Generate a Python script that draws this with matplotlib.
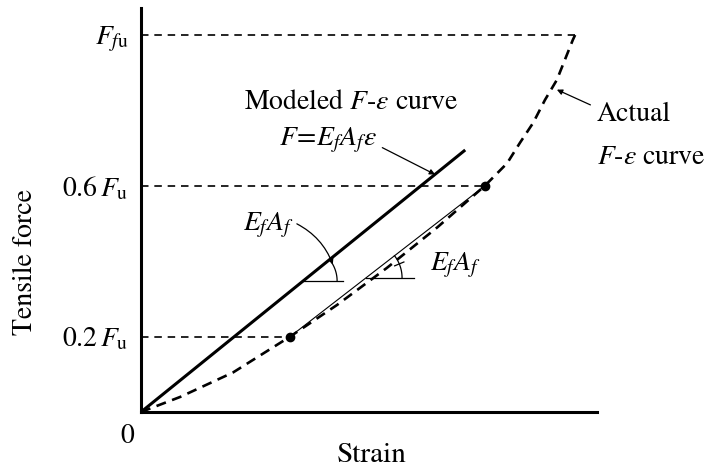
import numpy as np
import matplotlib
matplotlib.use("Agg")
import matplotlib.pyplot as plt

plt.rcParams['font.family'] = ['STIXGeneral', 'DejaVu Serif']
plt.rcParams['mathtext.fontset'] = 'stix'

# strain (normalised to axis length) and force (fraction of F_fu)
actual_strain = [0.0, 0.086, 0.202, 0.327, 0.430, 0.539, 0.650, 0.754, 0.803, 0.831, 0.860, 0.886, 0.912, 0.947, 0.952]
actual_force = [0.0, 0.040, 0.105, 0.200, 0.284, 0.382, 0.490, 0.600, 0.660, 0.714, 0.767, 0.828, 0.881, 0.987, 1.000]
model_strain = [0.0, 0.711]
model_force = [0.0, 0.695]
chord_strain = [0.327, 0.754]
chord_force = [0.200, 0.600]
level_force = [0.2, 0.6, 1.0]
level_end = [0.327, 0.754, 0.952]
level_labels = [r'$0.2\,F_\mathrm{u}$', r'$0.6\,F_\mathrm{u}$', r'$F_{f\mathrm{u}}$']

FS = 20

fig = plt.figure(figsize=(7.17, 4.70), dpi=100)
ax = fig.add_axes([141 / 717, 58 / 470, 456 / 717, 404 / 470])
ax.set_xlim(0, 1)
ax.set_ylim(0, 404 / 377)
for s in ['top', 'right']:
    ax.spines[s].set_visible(False)
for s in ['left', 'bottom']:
    ax.spines[s].set_linewidth(2.2)
ax.set_xticks([])
ax.set_yticks(level_force)
ax.set_yticklabels(level_labels, fontsize=FS)
ax.tick_params(axis='y', length=0, pad=9)

# reference levels
for yv, xe in zip(level_force, level_end):
    ax.plot([0, xe], [yv, yv], color='black', lw=1.2, dashes=(4.5, 3.5), clip_on=False)

# curves
ax.plot(actual_strain, actual_force, color='black', lw=1.9, dashes=(3.8, 2.5), clip_on=False)
ax.plot(model_strain, model_force, color='black', lw=2.2, solid_capstyle='butt')
ax.plot(chord_strain, chord_force, color='black', lw=0.8)
ax.plot(chord_strain, chord_force, 'o', color='black', ms=6)


def to_px(x, y):
    return ax.transData.transform((x, y))


def to_data(px):
    return ax.transData.inverted().transform(px)


def slope_mark(x0, y0, x1, y1, frac, r, hlen):
    # horizontal leg and angle arc drawn in pixel space
    p0, p1 = to_px(x0, y0), to_px(x1, y1)
    v = p0 + frac * (p1 - p0)
    ang = np.arctan2(p1[1] - p0[1], p1[0] - p0[0])
    h = to_data(np.array([[v[0], v[1]], [v[0] + hlen, v[1]]]))
    ax.plot(h[:, 0], h[:, 1], color='black', lw=0.9)
    t = np.linspace(0, ang, 30)
    arc = to_data(np.column_stack([v[0] + r * np.cos(t), v[1] + r * np.sin(t)]))
    ax.plot(arc[:, 0], arc[:, 1], color='black', lw=0.9)
    return v, ang


v1, a1 = slope_mark(model_strain[0], model_force[0], model_strain[1], model_force[1], 0.50, 34, 40)
v2, a2 = slope_mark(chord_strain[0], chord_force[0], chord_strain[1], chord_force[1], 0.39, 36, 48)

# small tick on the second arc
tm = a2 * 0.6
tk = to_data(np.array([[v2[0] + 31 * np.cos(tm), v2[1] + 31 * np.sin(tm)],
                       [v2[0] + 41 * np.cos(tm), v2[1] + 41 * np.sin(tm)]]))
ax.plot(tk[:, 0], tk[:, 1], color='black', lw=0.9)

# arc arrow for first slope
am = a1 * 0.75
tip = to_data(np.array([v1[0] + 34 * np.cos(am), v1[1] + 34 * np.sin(am)]))

ax.annotate(r'$E_fA_f$', xy=tip, xytext=(0.28, 0.495), fontsize=FS, ha='center', va='center',
            arrowprops=dict(arrowstyle='-|>', color='black', lw=0.9, mutation_scale=8,
                            shrinkA=0, shrinkB=0, connectionstyle='arc3,rad=-0.2',
                            relpos=(1.0, 0.6)))
ax.text(0.69, 0.39, r'$E_fA_f$', fontsize=FS, ha='center', va='center')

ax.text(0.46, 0.82, r'Modeled $F$-$\varepsilon$ curve', fontsize=FS, ha='center', va='center')
ax.annotate(r'$F\!=\!E_fA_f\varepsilon$', xy=(0.645, 0.63), xytext=(0.41, 0.72),
            fontsize=FS, ha='center', va='center',
            arrowprops=dict(arrowstyle='-|>', color='black', lw=0.9, mutation_scale=8,
                            shrinkA=2, shrinkB=0, relpos=(1.0, 0.35)))

ax.annotate('Actual', xy=(0.912, 0.855), xytext=(1.0, 0.79), fontsize=FS,
            ha='left', va='center', annotation_clip=False,
            arrowprops=dict(arrowstyle='-|>', color='black', lw=0.9, mutation_scale=8,
                            shrinkA=3, shrinkB=0, relpos=(0.0, 0.75)))
ax.text(1.0, 0.675, r'$F$-$\varepsilon$ curve', fontsize=FS, ha='left', va='center', clip_on=False)

ax.text(-0.03, -0.065, '0', fontsize=FS, ha='center', va='center')
fig.text(372 / 717, 1 - 455 / 470, 'Strain', fontsize=FS + 1, ha='center', va='center')
fig.text(25 / 717, 1 - 262 / 470, 'Tensile force', fontsize=FS, ha='center', va='center', rotation=90)

fig.savefig('out.png', dpi=100)
